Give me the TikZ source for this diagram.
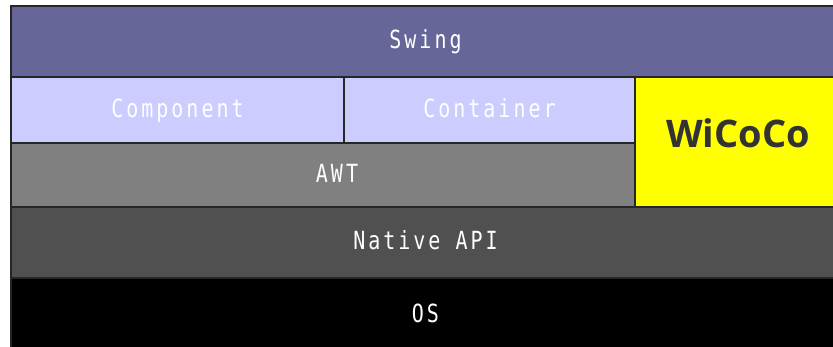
\documentclass[tikz,border=0pt]{standalone}
\usepackage{fontspec}
\newfontfamily\layerfont[FakeStretch=0.8,LetterSpace=12]{DejaVu Sans Mono}
\newfontfamily\logofont{Open Sans}
\definecolor{swingc}{HTML}{666699}
\definecolor{compc}{HTML}{CCCCFF}
\definecolor{awtc}{HTML}{808080}
\definecolor{nativec}{HTML}{505050}
\definecolor{logoc}{HTML}{333333}
\definecolor{wicoc}{HTML}{FFFF00}
\begin{document}
\begin{tikzpicture}[x=1pt,y=-1pt]
            \tikzset{
                layer/.style={draw=black!85,line width=1.5pt,inner sep=0pt,outer sep=0pt,
                    text=white,font=\layerfont\fontsize{25}{30}\selectfont,text height=17pt,text depth=2pt},
                layer size/.style args={#1 by #2}{minimum width=#1pt,minimum height=#2pt},}
            \useasboundingbox (0,0) rectangle (833,347);
            \node[layer,fill=swingc,layer size=829 by 71] (swing) at (425.5,41.5) {Swing};
            \node[layer,fill=compc,layer size=333 by 66] (comp) at (177.5,110) {Component};
            \node[layer,fill=compc,layer size=291 by 66] (cont) at (489.5,110) {Container};
            \node[layer,fill=awtc,layer size=624 by 64] (awt) at (323,175) {};
            \node[layer,draw=none,fill=none] (awtlbl) at (337,175) {AWT};
            \node[layer,fill=wicoc,layer size=205 by 130] (wico) at (737.5,142) {};
            \node[text=logoc,font=\logofont\bfseries\fontsize{38}{40}\selectfont] (wicolbl) at (738,133.5) {WiCoCo};
            \node[layer,fill=nativec,layer size=829 by 71] (native) at (425.5,242.5) {Native API};
            \node[layer,fill=black,layer size=829 by 75] (os) at (425.5,315.5) {OS};
            % \draw [dotted] (0,0) grid[step=50] (833,347);
        \end{tikzpicture}
\end{document}
